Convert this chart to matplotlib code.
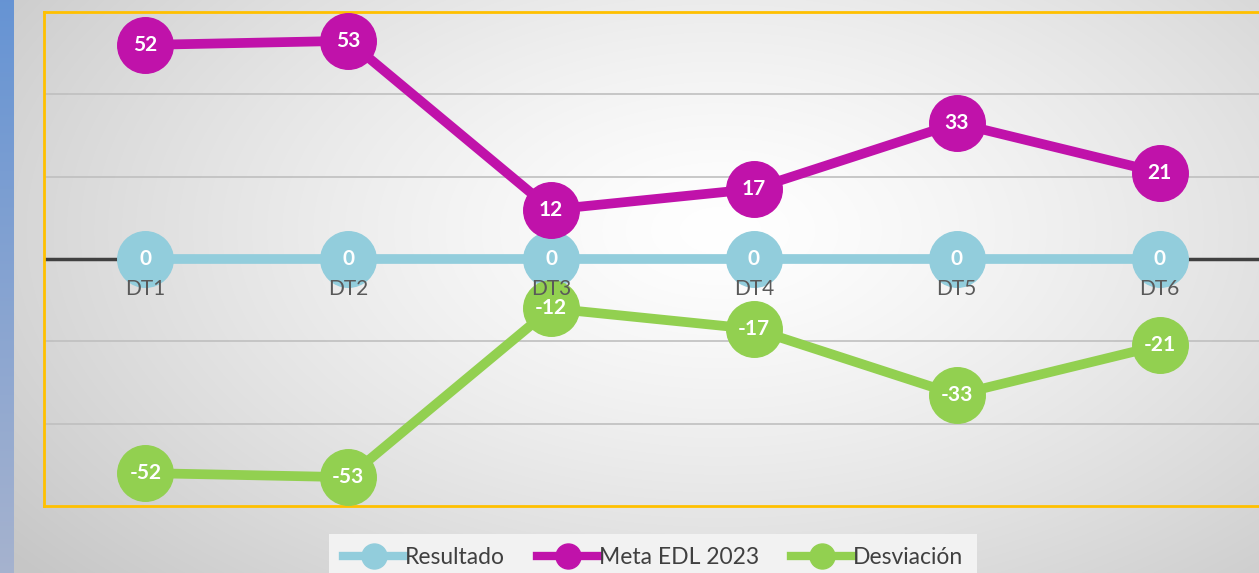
import numpy as np
import matplotlib.pyplot as plt
from matplotlib.lines import Line2D

# datos
categorias = ['DT1', 'DT2', 'DT3', 'DT4', 'DT5', 'DT6']
resultado = [0, 0, 0, 0, 0, 0]
meta_edl = [52, 53, 12, 17, 33, 21]
desviacion = [-52, -53, -12, -17, -33, -21]
nombres = ['Resultado', 'Meta EDL 2023', 'Desviación']
colores = ['#92CDDC', '#C012AA', '#92D050']

plt.rcParams['font.family'] = ['Lato', 'DejaVu Sans']

W, H = 1259, 573
fig = plt.figure(figsize=(W / 100, H / 100), dpi=100)

# fondo con degradado radial
bg = fig.add_axes([0, 0, 1, 1], zorder=-10)
yy, xx = np.mgrid[0:H, 0:W]
r = np.sqrt(((xx - 720) / 900.0) ** 2 + ((yy - 230) / 520.0) ** 2)
r = np.clip(r, 0, 1)
g = 1.0 - 0.22 * r ** 1.3
img = np.dstack([g, g, g])
# franja azul a la izquierda
strip = 14
t = np.linspace(0, 1, H)[:, None]
img[:, :strip, 0] = 0.40 + 0.25 * t
img[:, :strip, 1] = 0.58 + 0.12 * t
img[:, :strip, 2] = 0.83 - 0.02 * t
bg.imshow(img, extent=[0, W, H, 0], aspect='auto')
bg.set_xlim(0, W)
bg.set_ylim(H, 0)
bg.axis('off')

ax = fig.add_axes([44 / W, (H - 506) / H, (1261 - 44) / W, (506 - 12) / H])
ax.patch.set_alpha(0)
x = np.arange(len(categorias))
ax.set_xlim(-0.5, len(categorias) - 0.5)
ax.set_ylim(-60, 60)

for yv in [-40, -20, 20, 40]:
    ax.axhline(yv, color='#BFBFBF', lw=1.2, zorder=1)
ax.axhline(0, color='#404040', lw=2.5, zorder=1)

series = [resultado, meta_edl, desviacion]
for i, (vals, col) in enumerate(zip(series, colores)):
    ax.plot(x, vals, color=col, lw=7, marker='o', ms=40, mfc=col, mec=col,
            zorder=3 + i, solid_capstyle='round')
for i, vals in enumerate(series):
    for xi, v in zip(x, vals):
        ax.text(xi, v, str(v), ha='center', va='center', color='white',
                fontsize=15, fontweight='bold', zorder=10)

for xi, c in zip(x, categorias):
    ax.text(xi, -7.3, c, ha='center', va='center', color='#595959',
            fontsize=15, zorder=11)

ax.set_xticks([])
ax.set_yticks([])
for s in ax.spines.values():
    s.set_color('#FFC000')
    s.set_linewidth(2)

handles = [Line2D([0], [0], color=c, lw=6, marker='o', ms=18, mfc=c, mec=c)
           for c in colores]
leg = fig.legend(handles, nombres, loc='center', bbox_to_anchor=(653 / W, 1 - 558 / H),
                 ncol=3, frameon=True, fontsize=16.5, handlelength=2.7,
                 handletextpad=0.0, columnspacing=1.4, borderpad=0.6)
leg.get_frame().set_facecolor('#F2F2F2')
leg.get_frame().set_edgecolor('none')
leg.get_frame().set_alpha(1)
leg.get_frame().set_boxstyle('square', pad=0)
for t_ in leg.get_texts():
    t_.set_color('#404040')

fig.savefig('out.png', dpi=100)
